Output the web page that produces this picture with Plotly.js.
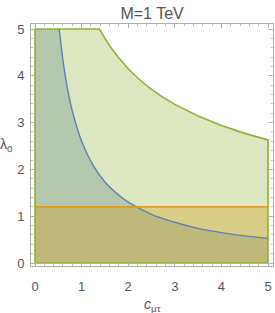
<!DOCTYPE html>
<html>
<head>
<meta charset="utf-8">
<script src="https://cdn.plot.ly/plotly-3.0.1.min.js"></script>
<style>html,body{margin:0;padding:0;background:#fff;}#chart{width:275px;height:313px;}</style>
</head>
<body>
<div id="chart"></div>
<script>
// Green region upper boundary (λ0 vs c_μτ)
var greenX = [0, 1.38, 1.6, 1.8, 2.0, 2.25, 2.5, 2.75, 3.0, 3.5, 4.0, 4.5, 5.0];
var greenY = [5, 5, 4.64, 4.38, 4.15, 3.91, 3.71, 3.54, 3.39, 3.14, 2.94, 2.77, 2.63];
// Blue curve
var blueX = [0.52, 0.6, 0.7, 0.8, 1.0, 1.25, 1.5, 1.75, 2.0, 2.5, 3.0, 3.5, 4.0, 4.5, 5.0];
var blueY = [5, 4.33, 3.71, 3.25, 2.6, 2.08, 1.73, 1.49, 1.3, 1.04, 0.87, 0.74, 0.65, 0.58, 0.53];
// Orange horizontal bound
var orangeLevel = 1.2;
var xMin = 0, xMax = 5, yMin = 0, yMax = 5;
var tickVals = [0, 1, 2, 3, 4, 5];

var cGreen = '#8FB032', cBlue = '#5E81B5', cOrange = '#E19C24';
var FONT = 'Liberation Sans, Arial, sans-serif';

// Green polygon
var gx = [xMin].concat(greenX, [xMax, xMin]);
var gy = [yMin].concat(greenY, [yMin, yMin]);
// Blue polygon
var bx = [xMin, xMin].concat(blueX, [xMax, xMin]);
var by = [yMin, yMax].concat(blueY, [yMin, yMin]);
// Orange polygon
var ox = [xMin, xMax, xMax, xMin, xMin];
var oy = [yMin, yMin, orangeLevel, orangeLevel, yMin];

var traces = [
  {x: gx, y: gy, mode: 'lines', fill: 'toself', fillcolor: 'rgba(143,176,50,0.3)', line: {width: 0}, hoverinfo: 'skip'},
  {x: bx, y: by, mode: 'lines', fill: 'toself', fillcolor: 'rgba(90,126,125,0.3)', line: {width: 0}, hoverinfo: 'skip'},
  {x: ox, y: oy, mode: 'lines', fill: 'toself', fillcolor: 'rgba(205,160,30,0.35)', line: {width: 0}, hoverinfo: 'skip'},
  {x: gx, y: gy, mode: 'lines', line: {color: cGreen, width: 1.6}, hoverinfo: 'skip'},
  {x: blueX, y: blueY, mode: 'lines', line: {color: cBlue, width: 1.4, shape: 'spline'}, hoverinfo: 'skip'},
  {x: [xMin, xMax], y: [orangeLevel, orangeLevel], mode: 'lines', line: {color: cOrange, width: 1.6}, hoverinfo: 'skip'}
];

var axisCommon = {
  showgrid: false, zeroline: false, showline: true, linecolor: '#b0b0b0', linewidth: 1,
  mirror: 'allticks', ticks: 'inside', ticklen: 4, tickcolor: '#b0b0b0', tickwidth: 1,
  tickvals: tickVals, tickfont: {family: FONT, size: 13, color: '#555'},
  minor: {ticks: 'inside', ticklen: 2, tickcolor: '#b8b8b8', dtick: 0.2, showgrid: false}
};

var layout = {
  width: 275, height: 313,
  margin: {l: 31, r: 2, t: 24, b: 47},
  paper_bgcolor: '#fff', plot_bgcolor: '#fff',
  showlegend: false,
  title: {text: 'M=1 TeV', x: 0.553, xanchor: 'center', y: 0.958, yanchor: 'middle',
          font: {family: FONT, size: 16, color: '#555'}},
  xaxis: Object.assign({}, axisCommon, {range: [-0.086, 5.107], ticklabelstandoff: 8}),
  yaxis: Object.assign({}, axisCommon, {range: [-0.064, 5.107], ticklabelstandoff: 3}),
  annotations: [
    {text: '<i>c</i><sub>μτ</sub>', xref: 'paper', yref: 'paper', x: 0.5, y: -0.16, xanchor: 'center', yanchor: 'middle',
     showarrow: false, font: {family: FONT, size: 14, color: '#555'}},
    {text: 'λ<sub>0</sub>', xref: 'paper', yref: 'paper', x: -0.1, y: 0.5, xanchor: 'center', yanchor: 'middle',
     showarrow: false, font: {family: FONT, size: 14, color: '#555'}}
  ]
};

Plotly.newPlot('chart', traces, layout, {displayModeBar: false, staticPlot: true});
</script>
</body>
</html>
